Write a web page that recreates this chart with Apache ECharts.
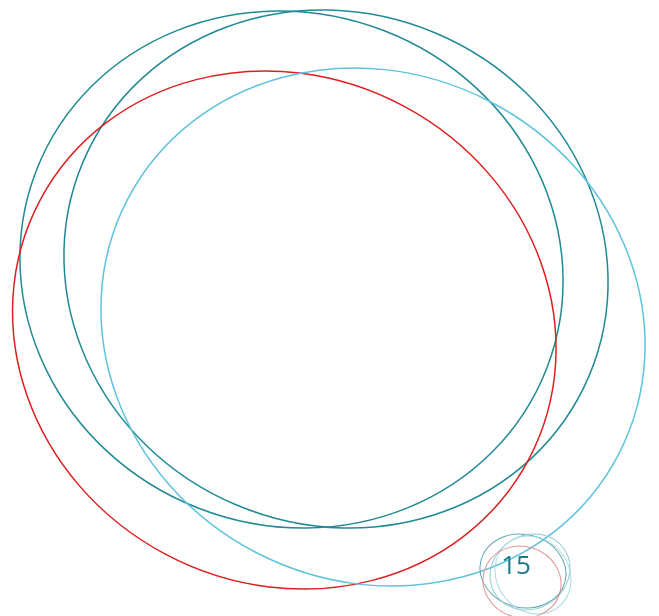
<!DOCTYPE html>
<html>
<head>
<meta charset="utf-8">
<title>rings</title>
<script src="https://cdn.jsdelivr.net/npm/echarts@6/dist/echarts.min.js"></script>
<style>
    html, body { margin: 0; padding: 0; background: #fff; }
    #main { width: 659px; height: 616px; }
</style>
</head>
<body>
<div id="main"></div>
<script>
// big rings: centre, half width, half height, drop of the rightmost point
var bigX = [291.5, 336, 284.3, 373]
var bigY = [269.5, 269, 330, 327]
var bigW = [271.5, 272, 271.7, 272]
var bigH = [258.5, 259, 259, 259]
var bigTilt = [11.5, 13, 18.5, 18]

// small rings round the page number
var smallX = [523, 530, 533, 522]
var smallY = [571, 572, 575, 582]
var smallW = [43, 40, 38, 39]
var smallH = [37, 38, 39, 36]
var smallTilt = [3, -4, 5, 2]

var pageNumber = '15'
var pageNumberPos = [516, 567]

var bigColors = ['#1f8a95', '#1f8a95', '#dc1f1f', '#5ec3dc']
var smallColors = ['#4f9fa7', '#8cc7cd', '#9fd6e4', '#e08a8c']

function rows(xs, ys, ws, hs, ds) {
    var out = []
    for (var i = 0; i < xs.length; i++) {
        out.push([xs[i], ys[i], ws[i], hs[i], ds[i]])
    }
    return out
}

function ringRenderer(colors, width, opacity) {
    return function (params, api) {
        var c = api.coord([api.value(0), api.value(1)])
        var s = api.size([api.value(2), api.value(3)])
        var W = s[0], H = s[1]
        var D = api.size([0, api.value(4)])[1] * (api.value(4) < 0 ? -1 : 1)
        // bounding box + drop of side point -> covariance of the ellipse
        var sxx = W * W, syy = H * H, sxy = W * D
        var m = (sxx + syy) / 2
        var r = Math.sqrt((sxx - syy) * (sxx - syy) / 4 + sxy * sxy)
        var theta = 0.5 * Math.atan2(2 * sxy, sxx - syy)
        return {
            type: 'ellipse',
            x: c[0],
            y: c[1],
            rotation: -theta,
            shape: { cx: 0, cy: 0, rx: Math.sqrt(m + r), ry: Math.sqrt(Math.max(m - r, 1)) },
            style: { fill: 'none', stroke: colors[params.dataIndex], lineWidth: width, opacity: opacity },
            silent: true
        }
    }
}

var chart = echarts.init(document.getElementById('main'))

var option = {
    animation: false,
    backgroundColor: '#ffffff',
    grid: { left: 0, right: 0, top: 0, bottom: 0 },
    xAxis: { type: 'value', min: 0, max: 659, show: false },
    yAxis: { type: 'value', min: 0, max: 616, inverse: true, show: false },
    series: [
        {
            type: 'custom',
            renderItem: ringRenderer(bigColors, 1.5, 1),
            data: rows(bigX, bigY, bigW, bigH, bigTilt),
            encode: { x: 0, y: 1 },
            clip: false
        },
        {
            type: 'custom',
            renderItem: ringRenderer(smallColors, 1, 0.9),
            data: rows(smallX, smallY, smallW, smallH, smallTilt),
            encode: { x: 0, y: 1 },
            clip: false
        },
        {
            type: 'custom',
            renderItem: function (params, api) {
                var c = api.coord([api.value(0), api.value(1)])
                return {
                    type: 'text',
                    x: c[0],
                    y: c[1],
                    style: {
                        text: pageNumber,
                        fill: '#177b86',
                        font: '26px "Open Sans", sans-serif',
                        align: 'center',
                        verticalAlign: 'middle'
                    }
                }
            },
            data: [pageNumberPos],
            encode: { x: 0, y: 1 }
        }
    ]
}

chart.setOption(option)
</script>
</body>
</html>
